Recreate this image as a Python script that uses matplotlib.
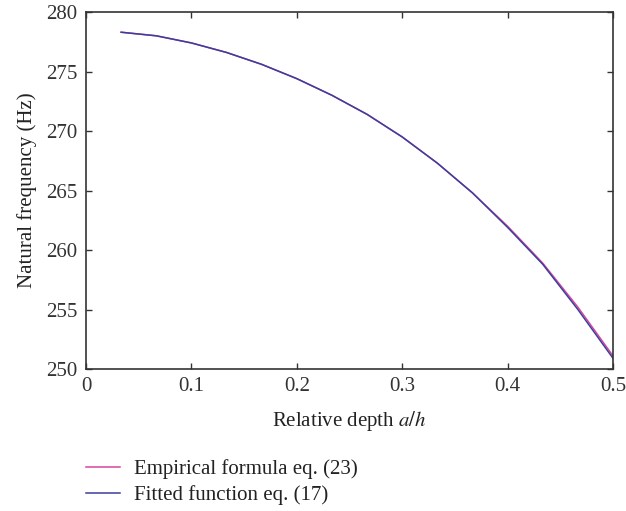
import matplotlib as mpl
mpl.use("Agg")
import matplotlib.pyplot as plt

plt.rcParams["font.family"] = "Liberation Serif"
plt.rcParams["mathtext.fontset"] = "stix"

# Relative depth a/h and natural frequency (Hz)
depth = [1/30, 2/30, 3/30, 4/30, 5/30, 6/30, 7/30, 8/30, 9/30, 10/30,
         11/30, 12/30, 13/30, 14/30, 15/30]
freq_empirical = [278.3, 278.0, 277.4, 276.6, 275.6, 274.4, 273.0, 271.4,
                  269.5, 267.3, 264.8, 262.0, 258.9, 255.2, 251.1]
freq_fitted = [278.3, 278.0, 277.4, 276.6, 275.6, 274.4, 273.0, 271.4,
               269.5, 267.3, 264.8, 261.9, 258.8, 255.0, 250.9]

xticks = [0, 0.1, 0.2, 0.3, 0.4, 0.5]
yticks = [250, 255, 260, 265, 270, 275, 280]

fig = plt.figure(figsize=(6.26, 5.11), dpi=100)
ax = fig.add_axes([86/626, 1 - 369/511, (613-86)/626, (369-12)/511])

l1, = ax.plot(depth, freq_empirical, color="#d9449c", lw=1.1,
              label="Empirical formula eq. (23)")
l2, = ax.plot(depth, freq_fitted, color="#3b3f9c", lw=1.1,
              label="Fitted function eq. (17)")

ax.set_xlim(0, 0.5)
ax.set_ylim(250, 280)
ax.set_xticks(xticks)
ax.set_xticklabels(["0", "0.1", "0.2", "0.3", "0.4", "0.5"])
ax.set_yticks(yticks)
ax.tick_params(direction="in", top=True, right=True, length=4, width=1,
               labelsize=15, colors="#333333", pad=6)
for s in ax.spines.values():
    s.set_color("#333333")
    s.set_linewidth(1.2)

ax.set_xlabel("Relative depth $a/h$", fontsize=15, color="#222222", labelpad=9)
ax.set_ylabel("Natural frequency (Hz)", fontsize=15, color="#222222", labelpad=7)

fig.legend(handles=[l1, l2], loc="upper left",
           bbox_to_anchor=(86/626, 1 - 459/511), frameon=False,
           borderpad=0, borderaxespad=0,
           fontsize=15, handlelength=1.65, handletextpad=0.65,
           labelspacing=0.3, labelcolor="#222222")

fig.savefig("out.png", dpi=100)
